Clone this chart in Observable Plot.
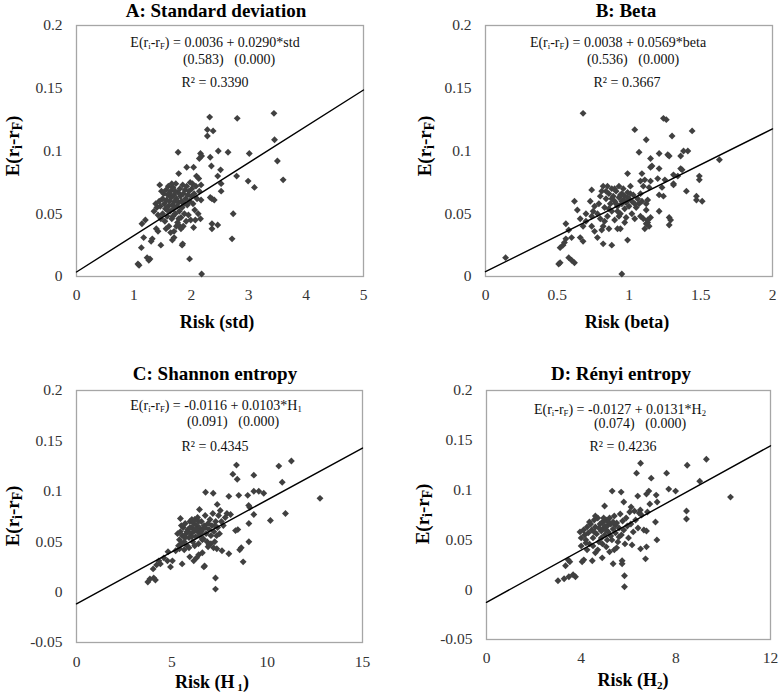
<!DOCTYPE html>
<html><head><meta charset="utf-8">
<script src="https://cdn.jsdelivr.net/npm/d3@7"></script>
<script src="https://cdn.jsdelivr.net/npm/@observablehq/plot@0.6"></script>
<style>
body{margin:0;background:#fff;}
#root{position:relative;width:782px;height:696px;font-family:"Liberation Serif","Times New Roman",serif;color:#000;overflow:hidden;}
.panel{position:absolute;}
.panel svg{position:absolute;left:0;top:0;}
.ttl{position:absolute;font-weight:bold;font-size:19px;white-space:nowrap;transform:translate(-50%,-50%);line-height:1;}
.xl{position:absolute;font-weight:bold;font-size:18px;white-space:nowrap;transform:translate(-50%,-50%);line-height:1;}
.yl{position:absolute;font-weight:bold;font-size:19px;white-space:nowrap;transform:translate(-50%,-50%) rotate(-90deg);line-height:1;}
.eq{position:absolute;font-size:14px;white-space:pre;transform:translate(-50%,-50%);line-height:1;color:#111;}
sub{font-size:0.62em;vertical-align:-0.25em;line-height:0;}
.yl sub{font-size:0.72em;}
</style>
</head><body><div id="root"></div>
<script>
// ---- data ----
const titles = ["A: Standard deviation", "B: Beta", "C: Shannon entropy", "D: Rényi entropy"];
const xLabels = ["Risk (std)", "Risk (beta)", "Risk (H<sub> 1</sub>)", "Risk (H<sub>2</sub>)"];
const riskNames = ["std", "beta", "H<sub>1</sub>", "H<sub>2</sub>"];
const intercepts = [0.0036, 0.0038, -0.0116, -0.0127];
const slopes = [0.0290, 0.0569, 0.0103, 0.0131];
const pIntercept = ["0.583", "0.536", "0.091", "0.074"];
const pSlope = ["0.000", "0.000", "0.000", "0.000"];
const rSquared = ["0.3390", "0.3667", "0.4345", "0.4236"];
const xTicks = [[0,1,2,3,4,5],[0,0.5,1,1.5,2],[0,5,10,15],[0,4,8,12]];
const yTicksTop = [0,0.05,0.1,0.15,0.2];
const yTicksBottom = [-0.05,0,0.05,0.1,0.15,0.2];

const ptsStd = [
[3.44,0.130],[2.32,0.127],[2.80,0.126],[2.28,0.117],[2.38,0.116],[2.28,0.112],[3.45,0.109],[1.77,0.099],[2.16,0.098],[2.18,0.096],[2.14,0.094],[2.47,0.100],[2.64,0.099],[3.01,0.098],[2.33,0.095],[3.50,0.092],[1.92,0.087],[2.35,0.088],[2.04,0.087],[2.51,0.085],[1.78,0.082],[2.09,0.080],[2.46,0.080],[2.79,0.080],[2.13,0.078],[2.99,0.076],[3.10,0.071],[3.60,0.077],[1.45,0.073],[2.02,0.074],[2.17,0.073],[2.52,0.074],[2.52,0.068],[2.33,0.063],[2.40,0.061],[2.36,0.062],[2.17,0.061],[2.06,0.053],[2.73,0.050],[2.16,0.046],[1.99,0.045],[2.36,0.042],[2.46,0.041],[2.04,0.039],[2.36,0.038],[1.80,0.040],[1.82,0.038],[2.71,0.030],[1.17,0.031],[1.32,0.030],[1.47,0.025],[1.67,0.029],[1.70,0.031],[1.84,0.025],[1.85,0.026],[1.13,0.023],[1.97,0.014],[1.23,0.015],[1.26,0.013],[1.28,0.014],[1.07,0.010],[1.09,0.009],[2.18,0.002],[1.14,0.042],[1.20,0.045],[1.39,0.038],[1.42,0.036],[1.30,0.028],
[1.35,0.052],[1.38,0.058],[1.40,0.055],[1.42,0.049],[1.44,0.060],[1.46,0.056],[1.47,0.046],[1.50,0.062],[1.50,0.050],[1.52,0.066],[1.53,0.058],[1.54,0.044],[1.55,0.054],[1.56,0.069],[1.57,0.061],[1.58,0.048],[1.59,0.065],[1.60,0.072],[1.60,0.056],[1.61,0.040],[1.62,0.060],[1.63,0.052],[1.64,0.068],[1.65,0.063],[1.66,0.046],[1.67,0.057],[1.68,0.071],[1.69,0.054],[1.70,0.065],[1.70,0.036],[1.71,0.060],[1.72,0.050],[1.73,0.074],[1.74,0.062],[1.75,0.056],[1.76,0.043],[1.77,0.067],[1.78,0.059],[1.79,0.052],[1.80,0.070],[1.81,0.064],[1.82,0.047],[1.83,0.060],[1.84,0.055],[1.85,0.073],[1.86,0.066],[1.87,0.058],[1.88,0.050],[1.89,0.069],[1.90,0.062],[1.91,0.044],[1.92,0.072],[1.93,0.057],[1.94,0.065],[1.95,0.049],[1.96,0.068],[1.97,0.060],[1.98,0.075],[2.00,0.064],[2.01,0.070],[2.03,0.058],[2.05,0.066],[2.07,0.045],[2.08,0.072],[2.10,0.062],[2.12,0.050],[2.14,0.068],[1.56,0.038],[1.64,0.035],[1.74,0.040],[1.48,0.068],[1.62,0.066],[1.66,0.074],[1.72,0.068],[1.58,0.053],[1.68,0.048],[1.78,0.046],[1.86,0.040]
];
const ptsBeta = [
[0.14,0.015],[0.68,0.130],[1.24,0.126],[1.26,0.125],[1.04,0.117],[1.44,0.116],[1.12,0.109],[1.30,0.112],[1.07,0.099],[1.27,0.097],[1.28,0.096],[1.21,0.098],[1.41,0.100],[1.38,0.100],[1.36,0.096],[1.15,0.094],[1.63,0.093],[1.15,0.087],[1.16,0.088],[1.21,0.086],[1.36,0.086],[0.99,0.082],[1.09,0.082],[1.31,0.081],[1.34,0.080],[1.37,0.085],[1.49,0.080],[1.49,0.077],[1.08,0.076],[1.11,0.077],[1.15,0.076],[1.20,0.078],[1.25,0.077],[1.23,0.071],[1.14,0.071],[1.31,0.074],[1.31,0.073],[1.40,0.068],[1.13,0.061],[1.21,0.065],[1.24,0.064],[1.47,0.064],[1.47,0.061],[1.51,0.060],[1.12,0.053],[1.21,0.052],[1.08,0.048],[1.10,0.046],[1.13,0.045],[1.15,0.047],[1.12,0.042],[1.14,0.040],[1.11,0.038],[1.13,0.043],[1.28,0.047],[1.28,0.041],[1.29,0.045],[0.74,0.069],[0.62,0.060],[0.64,0.053],[0.73,0.060],[0.56,0.042],[0.58,0.037],[0.52,0.023],[0.55,0.027],[0.54,0.025],[0.56,0.030],[0.60,0.031],[0.66,0.031],[0.68,0.028],[0.78,0.031],[0.82,0.026],[0.88,0.025],[0.51,0.010],[0.52,0.011],[0.58,0.015],[0.60,0.013],[0.62,0.011],[0.95,0.002],[0.99,0.029],[0.66,0.046],[0.70,0.044],[0.68,0.040],[0.74,0.040],[0.76,0.036],[0.74,0.048],[0.75,0.052],[0.76,0.056],[0.81,0.037],[0.82,0.040],[0.86,0.038],[0.92,0.038],[0.94,0.038],[0.93,0.048],[0.70,0.050],
[0.78,0.050],[0.79,0.058],[0.80,0.064],[0.81,0.068],[0.82,0.072],[0.83,0.055],[0.84,0.062],[0.85,0.072],[0.85,0.048],[0.86,0.066],[0.87,0.058],[0.88,0.070],[0.88,0.052],[0.89,0.064],[0.90,0.060],[0.90,0.045],[0.91,0.068],[0.92,0.056],[0.93,0.063],[0.93,0.072],[0.94,0.050],[0.95,0.066],[0.95,0.058],[0.96,0.061],[0.96,0.070],[0.97,0.054],[0.97,0.064],[0.98,0.059],[0.98,0.047],[0.99,0.067],[1.00,0.062],[1.00,0.056],[1.01,0.072],[1.02,0.060],[1.02,0.050],[1.03,0.065],[1.04,0.058],[1.05,0.055],[1.06,0.062],[1.07,0.058],[1.08,0.066],[1.09,0.060],[1.10,0.072],[1.12,0.058],[0.92,0.052],[0.86,0.054],[0.80,0.046],[0.83,0.044],[0.97,0.043],[1.04,0.046],[0.90,0.070],[0.95,0.060],[0.99,0.063],[0.94,0.065],[0.88,0.062],[0.84,0.068],[0.91,0.058],[1.01,0.066]
];
const ptsH1 = [
[11.27,0.130],[10.61,0.125],[8.39,0.126],[8.20,0.117],[9.30,0.116],[8.43,0.112],[10.79,0.109],[6.77,0.099],[7.17,0.098],[7.99,0.095],[8.51,0.096],[8.98,0.096],[9.30,0.100],[9.56,0.100],[9.82,0.098],[12.77,0.093],[10.96,0.078],[10.17,0.071],[5.45,0.073],[6.45,0.082],[7.38,0.087],[9.03,0.086],[9.09,0.084],[9.30,0.077],[9.04,0.068],[8.46,0.062],[8.34,0.061],[9.04,0.050],[8.56,0.042],[8.64,0.044],[8.74,0.030],[7.99,0.038],[6.68,0.025],[6.72,0.026],[7.29,0.014],[7.29,0.003],[3.74,0.010],[3.85,0.013],[4.05,0.014],[4.14,0.012],[4.02,0.023],[4.20,0.027],[4.32,0.031],[4.58,0.034],[4.93,0.025],[4.77,0.031],[5.03,0.031],[5.54,0.028],[6.15,0.031],[5.94,0.035],[6.41,0.037],[6.60,0.039],[4.80,0.040],[5.20,0.041],[5.40,0.043],[7.54,0.081],[7.89,0.078],[8.08,0.077],[6.95,0.047],[7.19,0.044],[7.36,0.043],[7.63,0.041],[4.40,0.028],[6.30,0.034],
[5.30,0.058],[5.40,0.052],[5.45,0.060],[5.50,0.048],[5.55,0.056],[5.60,0.064],[5.65,0.050],[5.70,0.068],[5.75,0.058],[5.80,0.046],[5.85,0.062],[5.90,0.054],[5.95,0.070],[6.00,0.058],[6.05,0.064],[6.10,0.050],[6.15,0.060],[6.20,0.072],[6.25,0.055],[6.30,0.066],[6.35,0.060],[6.40,0.048],[6.45,0.064],[6.50,0.058],[6.55,0.070],[6.60,0.062],[6.65,0.053],[6.70,0.066],[6.75,0.076],[6.80,0.058],[6.85,0.050],[6.90,0.068],[6.95,0.062],[7.00,0.072],[7.05,0.056],[7.10,0.066],[7.15,0.078],[7.20,0.060],[7.25,0.050],[7.30,0.070],[7.40,0.064],[7.45,0.076],[7.50,0.058],[7.60,0.070],[7.70,0.066],[7.80,0.074],[5.50,0.066],[5.65,0.042],[5.90,0.044],[6.05,0.072],[6.20,0.046],[6.35,0.074],[6.60,0.052],[6.05,0.055],[6.25,0.062],[6.45,0.056],[5.80,0.060],[6.90,0.045],[7.05,0.048],[7.35,0.056],[5.95,0.064],[6.15,0.068],[6.55,0.060],[6.75,0.064],[7.25,0.066],[5.70,0.054],[6.40,0.070],[5.35,0.046]
];
const ptsH2 = [
[9.29,0.131],[8.48,0.125],[6.51,0.127],[6.34,0.117],[7.61,0.117],[6.96,0.112],[9.01,0.109],[5.31,0.099],[5.69,0.098],[6.39,0.094],[6.76,0.096],[6.86,0.099],[7.17,0.095],[7.70,0.101],[7.99,0.099],[10.31,0.093],[8.45,0.079],[8.45,0.071],[7.21,0.088],[6.90,0.086],[5.80,0.088],[4.99,0.084],[6.11,0.083],[6.25,0.079],[6.45,0.077],[6.55,0.075],[6.80,0.078],[7.14,0.068],[6.65,0.060],[6.76,0.059],[7.20,0.050],[6.51,0.041],[6.76,0.043],[6.72,0.031],[5.73,0.029],[5.73,0.026],[5.35,0.026],[5.83,0.014],[5.83,0.003],[3.02,0.009],[3.28,0.011],[3.48,0.013],[3.66,0.015],[3.76,0.013],[3.34,0.024],[3.45,0.030],[3.52,0.028],[4.04,0.028],[4.11,0.030],[4.47,0.029],[4.89,0.032],[5.20,0.038],[5.40,0.040],[4.00,0.044],[4.20,0.047],[4.60,0.037],[5.06,0.043],
[3.95,0.058],[4.00,0.052],[4.10,0.060],[4.15,0.055],[4.20,0.050],[4.25,0.063],[4.30,0.057],[4.35,0.046],[4.40,0.066],[4.45,0.060],[4.50,0.052],[4.55,0.070],[4.60,0.063],[4.65,0.056],[4.70,0.072],[4.75,0.048],[4.80,0.066],[4.85,0.059],[4.90,0.068],[4.95,0.062],[5.00,0.055],[5.05,0.070],[5.10,0.064],[5.15,0.058],[5.20,0.072],[5.25,0.066],[5.30,0.050],[5.35,0.061],[5.40,0.074],[5.45,0.057],[5.50,0.067],[5.55,0.048],[5.60,0.062],[5.65,0.076],[5.70,0.055],[5.75,0.069],[5.80,0.060],[5.85,0.046],[5.90,0.072],[5.95,0.064],[6.00,0.052],[6.05,0.078],[6.10,0.066],[6.20,0.058],[6.30,0.070],[6.40,0.062],[6.50,0.080],[4.50,0.044],[4.70,0.040],[4.90,0.046],[5.10,0.050],[5.50,0.042],[4.35,0.068],[4.60,0.074],[4.85,0.052],[5.00,0.064],[5.25,0.054],[5.45,0.065],[4.75,0.062],[5.15,0.068],[5.60,0.053],[6.15,0.045],[4.25,0.040],[4.55,0.058],[4.95,0.072],[5.35,0.068],[5.05,0.060]
];
const allPts = [ptsStd, ptsBeta, ptsH1, ptsH2];

// ---- layout (pixels) ----
const layout = [
  {left:0,   top:0,   w:391, h:330, ml:76, mr:28, mt:25, mb:54, tx:216, ty:10, xlx:217, xly:322, ylx:12,  yly:146, eq:[[215,43],[229,60],[215,83]], xpad:12},
  {left:391, top:0,   w:391, h:330, ml:94, mr:10, mt:25, mb:54, tx:235, ty:10, xlx:236, xly:322, ylx:33,  yly:146, eq:[[227,43],[242,60],[236,83]], xpad:12},
  {left:0,   top:330, w:391, h:366, ml:76, mr:29, mt:60, mb:54, tx:215, ty:43, xlx:212, xly:352, ylx:12,  yly:186, eq:[[216,76],[233,92],[215,117]], xpad:13},
  {left:391, top:330, w:391, h:366, ml:95, mr:12, mt:60, mb:57, tx:230, ty:43, xlx:242, xly:350, ylx:31,  yly:184, eq:[[229,80],[249,94],[232,117]], xpad:12}
];

const fmt = d => String(+d.toFixed(2));
const root = document.getElementById("root");

allPts.forEach((pts, i) => {
  const L = layout[i];
  const panel = document.createElement("div");
  panel.className = "panel";
  panel.style.cssText = `left:${L.left}px;top:${L.top}px;width:${L.w}px;height:${L.h}px;`;
  const xt = xTicks[i];
  const yt = i < 2 ? yTicksTop : yTicksBottom;
  const xDom = [xt[0], xt[xt.length - 1]];
  const trend = xDom.map(x => ({x, y: intercepts[i] + slopes[i] * x}));
  const chart = Plot.plot({
    width: L.w, height: L.h,
    marginLeft: L.ml, marginRight: L.mr, marginTop: L.mt, marginBottom: L.mb,
    style: {fontFamily: '"Liberation Serif","Times New Roman",serif', fontSize: "15.5px", color: "#333", background: "transparent"},
    x: {domain: xDom, inset: 0},
    y: {domain: [yt[0], yt[yt.length - 1]], inset: 0},
    marks: [
      Plot.axisX({ticks: xt, tickSize: 0, tickPadding: L.xpad, tickFormat: fmt, label: null}),
      Plot.axisY({ticks: yt, tickSize: 0, tickPadding: 14, tickFormat: fmt, label: null}),
      Plot.frame({stroke: "#a6a6a6", strokeWidth: 1.3}),
      Plot.dot(pts, {x: d => d[0], y: d => d[1], symbol: "diamond2", r: 3.1, fill: "#404040", stroke: "none"}),
      Plot.line(trend, {x: "x", y: "y", stroke: "#000", strokeWidth: 1.4})
    ]
  });
  panel.appendChild(chart);

  const add = (cls, html, x, y) => {
    const el = document.createElement("div");
    el.className = cls; el.innerHTML = html;
    el.style.left = x + "px"; el.style.top = y + "px";
    panel.appendChild(el);
  };
  add("ttl", titles[i], L.tx, L.ty);
  add("xl", xLabels[i], L.xlx, L.xly);
  add("yl", "E(r<sub>i</sub>-r<sub>F</sub>)", L.ylx, L.yly);
  const sign = intercepts[i] < 0 ? "-" : "";
  add("eq", `E(r<sub>i</sub>-r<sub>F</sub>) = ${sign}${Math.abs(intercepts[i]).toFixed(4)} + ${slopes[i].toFixed(4)}*${riskNames[i]}`, L.eq[0][0], L.eq[0][1]);
  add("eq", `(${pIntercept[i]})   (${pSlope[i]})`, L.eq[1][0], L.eq[1][1]);
  add("eq", `R² = ${rSquared[i]}`, L.eq[2][0], L.eq[2][1]);
  root.appendChild(panel);
});
</script>
</body></html>
